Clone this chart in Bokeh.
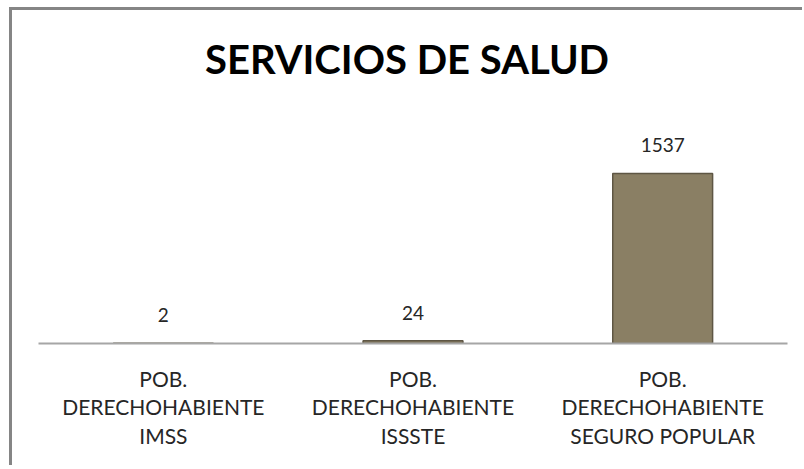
from bokeh.plotting import figure
from bokeh.models import ColumnDataSource, LabelSet, Range1d, Div
from bokeh.layouts import column
from bokeh.core.properties import value
from bokeh.embed import file_html
from bokeh.resources import INLINE

categories = ["POB.\nDERECHOHABIENTE\nIMSS",
              "POB.\nDERECHOHABIENTE\nISSSTE",
              "POB.\nDERECHOHABIENTE\nSEGURO POPULAR"]
values = [2, 24, 1537]
value_text = [str(v) for v in values]
title_text = "SERVICIOS DE SALUD"

FONT = "Lato"
Y_MAX = 2016

src = ColumnDataSource(dict(cat=categories, val=values, txt=value_text))

title = Div(text=title_text, width=790, height=80, margin=0,
            styles={"font-family": FONT, "font-weight": "bold", "font-size": "40px",
                    "line-height": "41px", "text-align": "center",
                    "padding-top": "29px", "box-sizing": "border-box",
                    "color": "#000000", "width": "790px"})

p = figure(x_range=categories, y_range=Range1d(0, Y_MAX),
           width=790, height=375, output_backend="svg", toolbar_location=None,
           min_border_left=26, min_border_right=15, min_border_top=30,
           min_border_bottom=122, margin=0)

p.vbar(x="cat", top="val", width=0.4, source=src,
       fill_color="#8A7F64", line_color="#5E5644", line_width=1.5)

p.add_layout(LabelSet(x="cat", y="val", text="txt", source=src,
                      text_align="center", text_baseline="bottom", y_offset=21,
                      text_font=value(FONT), text_font_size=value("19px"),
                      text_color="#262626"))

p.xaxis.major_label_text_font = FONT
p.xaxis.major_label_text_font_size = "21px"
p.xaxis.major_label_text_color = "#262626"
p.xaxis.major_label_text_line_height = 1.15
p.xaxis.major_label_standoff = 16
p.xaxis.major_tick_line_color = None
p.xaxis.minor_tick_line_color = None
p.xaxis.axis_line_color = "#A6A6A6"
p.xaxis.axis_line_width = 2
p.yaxis.visible = False
p.xgrid.grid_line_color = None
p.ygrid.grid_line_color = None
p.outline_line_color = None
p.title.visible = False

layout = column(title, p, spacing=0)
layout.styles = {"border-top": "3px solid #858585", "border-left": "3px solid #858585",
                 "margin-left": "9px", "margin-top": "7px"}

open("out.html", "w").write(file_html(layout, INLINE))
